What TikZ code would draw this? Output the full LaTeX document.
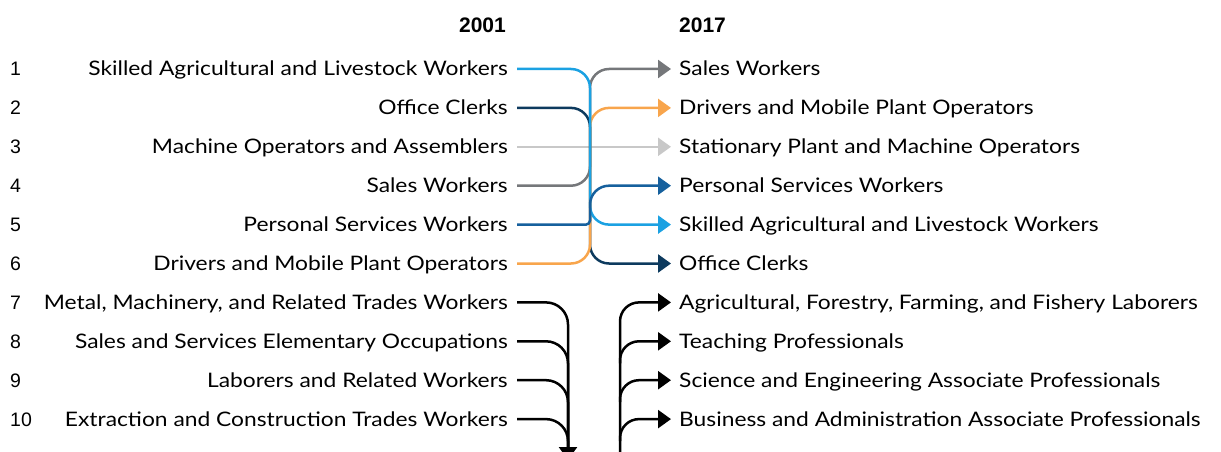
\documentclass[tikz,border=0pt]{standalone}
\usepackage{fontspec}
\setmainfont{Lato}[FakeStretch=1.14]
\newfontfamily\arialfont{Liberation Sans}
\usepackage{xcolor}
\usetikzlibrary{arrows.meta,positioning,calc}

\definecolor{skyblue}{HTML}{1BA1E2}
\definecolor{navyblue}{HTML}{0D3A5E}
\definecolor{midgray}{HTML}{75777A}
\definecolor{paleorange}{HTML}{F8A54C}
\definecolor{palegray}{HTML}{C8C8C8}
\definecolor{steelblue}{HTML}{16609D}

\begin{document}
\begin{tikzpicture}[
  x=1pt, y=-1pt,
  oldjob/.style={anchor=east, inner xsep=9pt, inner ysep=0pt,
                 text height=14pt, text depth=0pt,
                 font=\fontsize{20}{24}\selectfont},
  newjob/.style={anchor=west, inner xsep=8pt, inner ysep=0pt,
                 text height=14pt, text depth=0pt,
                 font=\fontsize{20}{24}\selectfont},
  rank/.style={anchor=west, inner sep=0pt,
               text height=14pt, text depth=0pt,
               font=\arialfont\fontsize{19.5}{23}\selectfont},
  year/.style={inner sep=0pt, font=\arialfont\bfseries\fontsize{21}{25}\selectfont},
  flow/.style={line width=2.5pt, rounded corners=19pt},
  tip/.style={-{Triangle[length=13pt,width=18pt]}}
]
\useasboundingbox (0,0) rectangle (1221,452);

% Years
\node[year, anchor=south east] (y1) at (506,33) {2001};
\node[year, anchor=south west] (y2) at (679,33) {2017};

% Ranks
\node[rank] (n1) at (10,69) {1};
\node[rank] (n2) at (10,107.9) {2};
\node[rank] (n3) at (10,146.8) {3};
\node[rank] (n4) at (10,185.7) {4};
\node[rank] (n5) at (10,224.6) {5};
\node[rank] (n6) at (10,263.5) {6};
\node[rank] (n7) at (10,302.4) {7};
\node[rank] (n8) at (10,341.3) {8};
\node[rank] (n9) at (10,380.2) {9};
\node[rank] (n10) at (10,419.1) {10};

% 2001 occupations
\node[oldjob] (l1) at (517,69) {Skilled Agricultural and Livestock Workers};
\node[oldjob] (l2) at (517,107.9) {Office Clerks};
\node[oldjob] (l3) at (517,146.8) {Machine Operators and Assemblers};
\node[oldjob] (l4) at (517,185.7) {Sales Workers};
\node[oldjob] (l5) at (517,224.6) {Personal Services Workers};
\node[oldjob] (l6) at (517,263.5) {Drivers and Mobile Plant Operators};
\node[oldjob] (l7) at (517,302.4) {Metal, Machinery, and Related Trades Workers};
\node[oldjob] (l8) at (517,341.3) {Sales and Services Elementary Occupations};
\node[oldjob] (l9) at (517,380.2) {Laborers and Related Workers};
\node[oldjob] (l10) at (517,419.1) {Extraction and Construction Trades Workers};

% 2017 occupations
\node[newjob] (r1) at (671,69) {Sales Workers};
\node[newjob] (r2) at (671,107.9) {Drivers and Mobile Plant Operators};
\node[newjob] (r3) at (671,146.8) {Stationary Plant and Machine Operators};
\node[newjob] (r4) at (671,185.7) {Personal Services Workers};
\node[newjob] (r5) at (671,224.6) {Skilled Agricultural and Livestock Workers};
\node[newjob] (r6) at (671,263.5) {Office Clerks};
\node[newjob] (r7) at (671,302.4) {Agricultural, Forestry, Farming, and Fishery Laborers};
\node[newjob] (r8) at (671,341.3) {Teaching Professionals};
\node[newjob] (r9) at (671,380.2) {Science and Engineering Associate Professionals};
\node[newjob] (r10) at (671,419.1) {Business and Administration Associate Professionals};

% Trunks
\coordinate (swap) at (590,0);
\coordinate (outtrunk) at (568,0);
\coordinate (intrunk) at (620,0);
\coordinate (sink) at (568,460);
\coordinate (source) at (620,470);

% Moves within the top six
\draw[flow, palegray, tip] (l3.east) -- (r3.west);
\draw[flow, midgray, tip] (l4.east) -| (swap |- r1.west) -- (r1.west);
\draw[flow, navyblue, tip] (l2.east) -| (swap |- r6.west) -- (r6.west);
\draw[flow, paleorange, tip] (l6.east) -| (swap |- r2.west) -- (r2.west);
\draw[flow, skyblue, tip] (l1.east) -| (swap |- r5.west) -- (r5.west);
\draw[flow, steelblue, sharp corners, tip] (l5.east)
  -- ($(swap |- l5.east)+(-4,0)$) arc[start angle=90, end angle=0, radius=4]
  -- ($(swap |- r4.west)+(0,19)$) arc[start angle=180, end angle=270, radius=19]
  -- (r4.west);

% Leaving the top ten
\draw[flow, black, rounded corners=22pt, tip] (l7.east) -| (sink);
\draw[flow, black, rounded corners=22pt] (l8.east) -| (outtrunk |- sink);
\draw[flow, black, rounded corners=22pt] (l9.east) -| (outtrunk |- sink);
\draw[flow, black, rounded corners=22pt] (l10.east) -| (outtrunk |- sink);

% Entering the top ten
\draw[flow, black, tip] (source) |- (r7.west);
\draw[flow, black, tip] ($(intrunk |- r8.west)+(0,22)$) |- (r8.west);
\draw[flow, black, tip] ($(intrunk |- r9.west)+(0,22)$) |- (r9.west);
\draw[flow, black, tip] ($(intrunk |- r10.west)+(0,22)$) |- (r10.west);

\end{tikzpicture}
\end{document}
